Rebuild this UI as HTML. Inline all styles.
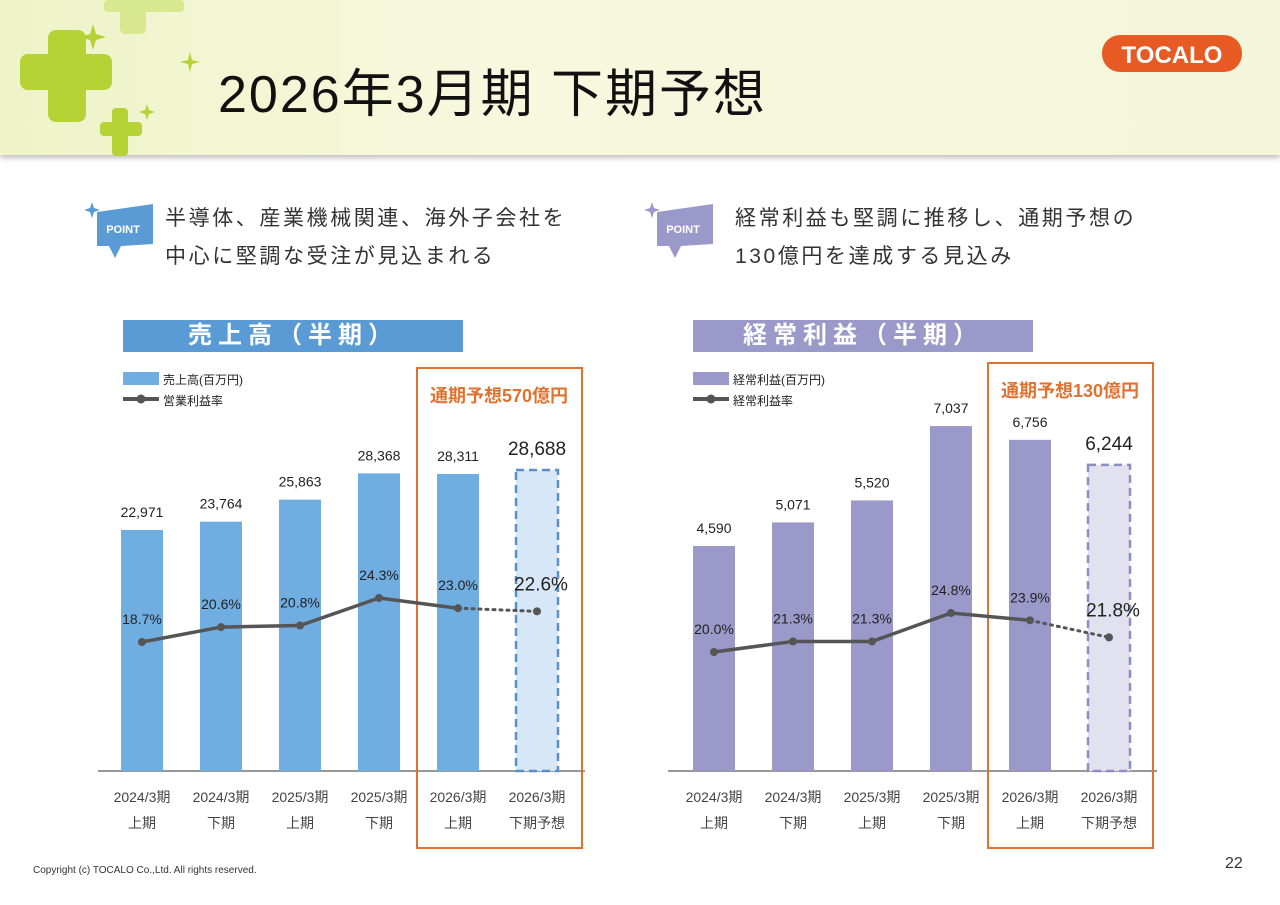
<!DOCTYPE html>
<html><head><meta charset="utf-8">
<style>
body{margin:0;width:1280px;height:905px;background:#fff;font-family:"Liberation Sans","Noto Sans CJK JP",sans-serif;position:relative;overflow:hidden}
.hdr{position:absolute;left:0;top:0;width:1280px;height:155px;background:linear-gradient(90deg,#eef3c8 0%,#f7f9df 40%,#f4f6dc 100%);box-shadow:0 3px 5px rgba(0,0,0,.25)}
.title{position:absolute;left:218px;top:52px;font-size:52px;color:#111;white-space:nowrap;letter-spacing:2px}
.pt{position:absolute;font-size:21px;color:#333;line-height:38px;white-space:nowrap;letter-spacing:2.6px}
.tb{position:absolute;top:320px;width:340px;height:32px;color:#fff;font-size:24px;font-weight:bold;text-align:center;line-height:32px;letter-spacing:6px}
</style></head><body>
<div class="hdr"></div>
<svg style="position:absolute;left:0;top:0" width="260" height="160">
<g fill="#b5d334"><rect x="48" y="30" width="38" height="92" rx="8"/><rect x="20" y="54" width="92" height="36" rx="8"/>
<rect x="112" y="108" width="16" height="48" rx="4"/><rect x="100" y="122" width="42" height="14" rx="4"/></g>
<g fill="#d7e88f"><rect x="120" y="0" width="26" height="34" rx="5"/><rect x="104" y="0" width="80" height="12" rx="4"/></g>
<g fill="#b5d334"><path d="M90 34l3-10 3 10 10 3-10 3-3 10-3-10-10-3z"/><path d="M188 60l2-8 2 8 8 2-8 2-2 8-2-8-8-2z"/><path d="M145 110l2-6 2 6 6 2-6 2-2 6-2-6-6-2z"/></g></svg>
<div class="title">2026年3月期 下期予想</div>
<svg style="position:absolute;left:1100px;top:33px" width="145" height="42">
<rect x="2" y="2" width="140" height="37" rx="18" fill="#e85a23"/><text x="72" y="30" text-anchor="middle" font-size="24" font-weight="bold" fill="#fff" font-family="Liberation Sans">TOCALO</text></svg>

<svg style="position:absolute;left:85px;top:200px" width="70" height="62">
<path d="M5 8l2-6 2 6 6 2-6 2-2 6-2-6-6-2z" fill="#5b9bd5"/><path d="M12 12l56-8v40l-32 2-6 12-6-12-12 0z" fill="#5b9bd5"/><text x="38" y="33" text-anchor="middle" font-size="11" font-weight="bold" fill="#fff">POINT</text></svg>
<div class="pt" style="left:165px;top:200px">半導体、産業機械関連、海外子会社を<br>中心に堅調な受注が見込まれる</div>
<svg style="position:absolute;left:640px;top:200px" width="75" height="62">
<path d="M10 8l2-6 2 6 6 2-6 2-2 6-2-6-6-2z" fill="#9b99c9"/><path d="M17 12l56-8v40l-32 2-6 12-6-12-12 0z" fill="#9b99c9"/><text x="43" y="33" text-anchor="middle" font-size="11" font-weight="bold" fill="#fff">POINT</text></svg>
<div class="pt" style="left:735px;top:200px">経常利益も堅調に推移し、通期予想の<br>130億円を達成する見込み</div>

<div class="tb" style="left:123px;background:#5b9bd5">売上高（半期）</div>
<div class="tb" style="left:693px;background:#9b99c9">経常利益（半期）</div>

<svg id="chart" style="position:absolute;left:0;top:0" width="1280" height="905"></svg>
<div style="position:absolute;left:33px;top:865px;font-size:10px;color:#333">Copyright (c) TOCALO Co.,Ltd. All rights reserved.</div>
<div style="position:absolute;left:1225px;top:855px;font-size:16px;color:#333">22</div>

<script>
const categoriesTop=["2024/3期","2024/3期","2025/3期","2025/3期","2026/3期","2026/3期"];
const categoriesBottom=["上期","下期","上期","下期","上期","下期予想"];
const salesValues=[22971,23764,25863,28368,28311,28688];
const salesMargin=[18.7,20.6,20.8,24.3,23.0,22.6];
const profitValues=[4590,5071,5520,7037,6756,6244];
const profitMargin=[20.0,21.3,21.3,24.8,23.9,21.8];
const NS="http://www.w3.org/2000/svg";
const svg=document.getElementById('chart');
function mk(t,a,txt){const e=document.createElementNS(NS,t);for(const k in a)e.setAttribute(k,a[k]);if(txt!==undefined)e.textContent=txt;svg.appendChild(e);return e;}
function draw(o){
 const base=771;
 const xs=i=>o.x0+i*79;
 const yb=v=>base-v*o.bs;
 const yl=v=>o.ly0-(v-o.lv0)*o.lk;
 let a=mk('line',{x1:o.ax0,x2:o.ax1,y1:base,y2:base,stroke:'#777','stroke-width':1.5});
 
 let bx=mk('rect',{x:o.bx,y:o.by,width:165,height:848-o.by,fill:'none',stroke:'#e0712f','stroke-width':2});
 
 let ft=mk('text',{x:o.bx+82,y:o.by+34,'text-anchor':'middle','font-size':18,fill:'#e0712f','font-weight':'bold'},o.ftxt);
 
 o.vals.forEach((v,i)=>{
  const last=i===o.vals.length-1;
  let r=mk('rect',last?{x:xs(i)-21,y:yb(v),width:42,height:base-yb(v),fill:o.light,stroke:o.dash,'stroke-width':2.5,'stroke-dasharray':'8 5'}:{x:xs(i)-21,y:yb(v),width:42,height:base-yb(v),fill:o.col});
  
  let t=mk('text',{x:xs(i),y:yb(v)-(last?15:13),'text-anchor':'middle','font-size':last?19:14,fill:'#222'},v.toLocaleString('en-US'));
  
  let c1=mk('text',{x:xs(i),y:802,'text-anchor':'middle','font-size':14,fill:'#444'},categoriesTop[i]);
  
  let c2=mk('text',{x:xs(i),y:828,'text-anchor':'middle','font-size':14,fill:'#444'},categoriesBottom[i]);
  
 });
 const m=o.marg,n=m.length;
 let pts=m.slice(0,n-1).map((v,i)=>xs(i)+','+yl(v)).join(' ');
 let pl=mk('polyline',{points:pts,fill:'none',stroke:'#555','stroke-width':3.5});
 
 let dl=mk('line',{x1:xs(n-2),y1:yl(m[n-2]),x2:xs(n-1),y2:yl(m[n-1]),stroke:'#555','stroke-width':3,'stroke-dasharray':'2 5','stroke-linecap':'round'});
 
 m.forEach((v,i)=>{
  const last=i===n-1;
  let c=mk('circle',{cx:xs(i),cy:yl(v),r:4,fill:'#555'});
  
  let t=mk('text',{x:xs(i)+(last?4:0),y:yl(v)-(last?21:18),'text-anchor':'middle','font-size':last?19:14,fill:'#222'},v.toFixed(1)+'%');
  
 });
 let l1=mk('rect',{x:o.lx,y:372,width:36,height:13,fill:o.col});
 
 let l1t=mk('text',{x:o.lx+40,y:384,'font-size':12,fill:'#222'},o.leg1);
 
 let l2=mk('line',{x1:o.lx,x2:o.lx+36,y1:399,y2:399,stroke:'#555','stroke-width':4});
 
 mk('circle',{cx:o.lx+18,cy:399,r:4.5,fill:'#555'});
 let l2t=mk('text',{x:o.lx+40,y:405,'font-size':12,fill:'#222'},o.leg2);
 
}
draw({p:'sales',x0:142,bs:241/22971,ly0:642,lv0:18.7,lk:7.86,ax0:98,ax1:585,bx:417,by:368,ftxt:'通期予想570億円',vals:salesValues,marg:salesMargin,col:'#70ade0',light:'#d6e7f7',dash:'#5b8fc9',lx:123,leg1:'売上高(百万円)',leg2:'営業利益率'});
draw({p:'profit',x0:714,bs:225/4590,ly0:652,lv0:20.0,lk:8.125,ax0:668,ax1:1157,bx:988,by:363,ftxt:'通期予想130億円',vals:profitValues,marg:profitMargin,col:'#9b99c9',light:'#e2e1f0',dash:'#8e8cc2',lx:693,leg1:'経常利益(百万円)',leg2:'経常利益率'});
</script>
</body></html>
